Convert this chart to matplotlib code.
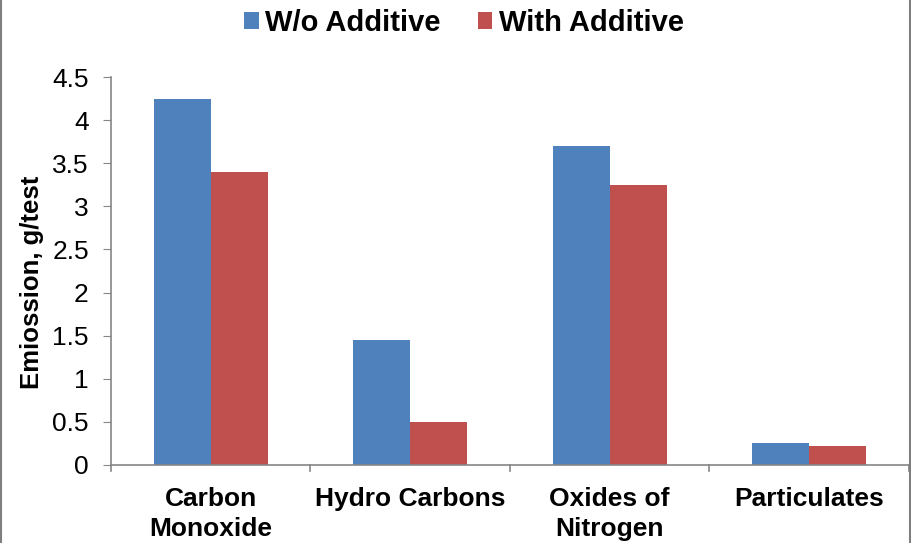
import matplotlib
matplotlib.use("Agg")
import matplotlib.pyplot as plt
import numpy as np
from matplotlib.lines import Line2D
from matplotlib.patches import Patch

categories = ["Carbon\nMonoxide", "Hydro Carbons", "Oxides of\nNitrogen", "Particulates"]
without_additive = [4.25, 1.45, 3.70, 0.25]
with_additive = [3.40, 0.50, 3.25, 0.22]
yticks = [0, 0.5, 1, 1.5, 2, 2.5, 3, 3.5, 4, 4.5]
ytick_labels = ["0", "0.5", "1", "1.5", "2", "2.5", "3", "3.5", "4", "4.5"]

plt.rcParams['font.family'] = ['Liberation Sans', 'DejaVu Sans']

fig = plt.figure(figsize=(9.12, 5.43), dpi=100)
ax = fig.add_axes([111/912, 1-465/543, (909-111)/912, (465-77)/543])

x = np.arange(len(categories))
w = 0.286
blue = "#4F81BD"
red = "#C0504D"
ax.bar(x - w/2, without_additive, w, color=blue, label="W/o Additive")
ax.bar(x + w/2, with_additive, w, color=red, label="With Additive")

ax.set_xlim(-0.5, len(categories) - 0.5)
ax.set_ylim(0, 4.5)
ax.set_yticks(yticks)
ax.set_yticklabels(ytick_labels, fontsize=19)
ax.set_xticks(x)
ax.set_xticklabels(categories, fontsize=19, fontweight='bold', linespacing=1.3)
ax.tick_params(axis='x', length=0, pad=16)
ax.tick_params(axis='y', length=6, color="#868686", pad=10)
# boundary ticks on x axis
for b in np.arange(-0.5, len(categories), 1.0):
    ax.plot([b, b], [0, -0.07], color="#868686", lw=1.2, clip_on=False)

for s in ['top', 'right']:
    ax.spines[s].set_visible(False)
for s in ['left', 'bottom']:
    ax.spines[s].set_color("#868686")
    ax.spines[s].set_linewidth(1.2)

ax.set_ylabel("Emiossion, g/test", fontsize=18.5, fontweight='bold')
ax.yaxis.set_label_coords(-0.084, 0.472)

handles = [Patch(facecolor=blue, edgecolor='none'), Patch(facecolor=red, edgecolor='none')]
fig.legend(handles, ["W/o Additive", "With Additive"], loc='center',
           bbox_to_anchor=(464/912, 1-23/543), ncol=2, frameon=False,
           prop={'size': 21, 'weight': 'bold'}, handlelength=0.5, handleheight=0.5,
           handletextpad=0.22, columnspacing=1.27)

fig.add_artist(Line2D([1/912, 1/912], [0, 1], color="#7f7f7f", lw=1.5, transform=fig.transFigure))
fig.add_artist(Line2D([910.5/912, 910.5/912], [0, 1], color="#7f7f7f", lw=1.5, transform=fig.transFigure))

fig.savefig("out.png", dpi=100)
